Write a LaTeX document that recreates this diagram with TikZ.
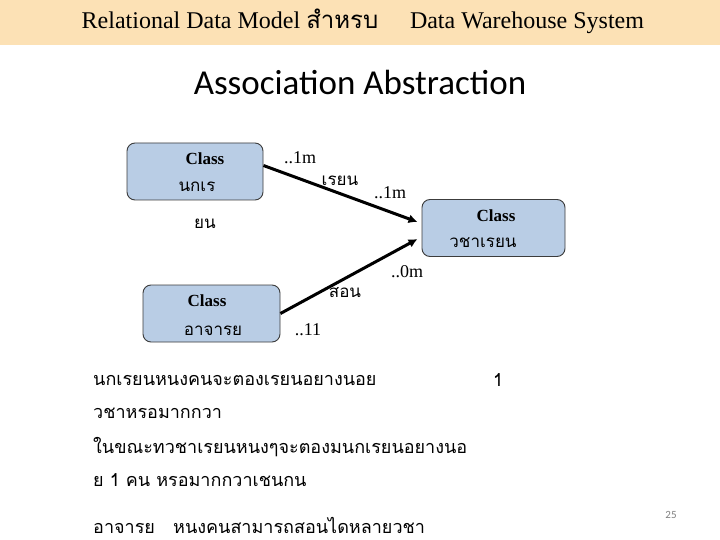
\documentclass[tikz,border=0pt]{standalone}
\usepackage{fontspec}
\setmainfont{Liberation Serif}
\newfontfamily\thai[Script=Thai]{Loma}
\newfontfamily\calfont{Carlito}
\usetikzlibrary{arrows.meta}
\definecolor{hdr}{RGB}{252,225,181}
\definecolor{boxfill}{RGB}{185,205,229}
\definecolor{boxline}{RGB}{60,60,60}
\tikzset{
  classbox/.style={draw=boxline, line width=0.9pt, fill=boxfill, rounded corners=8pt, minimum width=136pt, minimum height=57pt, inner sep=0pt},
  cls/.style={font=\fontsize{17}{19}\selectfont\bfseries, inner sep=0pt},
  th/.style={font=\thai\fontsize{17}{19}\selectfont, inner sep=0pt},
  mult/.style={font=\fontsize{18}{20}\selectfont, inner sep=0pt},
  body/.style={font=\thai\fontsize{18}{20}\selectfont, inner sep=0pt, anchor=west},
  hdrtext/.style={font=\fontsize{24}{26}\selectfont, inner sep=0pt, anchor=base},
  arr/.style={line width=3pt, -{Latex[length=9pt,width=9pt]}}
}
\begin{document}
\begin{tikzpicture}[x=1pt,y=-1pt]
\useasboundingbox (0,0) rectangle (720,540);
\fill[white] (0,0) rectangle (720,540);
\fill[hdr] (0,0) rectangle (720,45);
\node[hdrtext] (h1) at (230,29) {Relational Data Model {\thai สำหรบ}};
\node[hdrtext] (h2) at (527,29) {Data Warehouse System};
\node[font=\calfont\fontsize{35}{38}\selectfont, inner sep=0pt] (title) at (360,82) {Association Abstraction};
% boxes
\node[classbox] (s) at (195,171.5) {};
\node[classbox, minimum width=143pt] (c) at (493.5,228) {};
\node[classbox, minimum width=137pt] (t) at (211.5,313.5) {};
\node[cls] (s1) at (205,159) {Class};
\node[th] (s2) at (197,187) {นกเร};
\node[th] (s3) at (205,224) {ยน};
\node[cls] (c1) at (496,216) {Class};
\node[th] (c2) at (483,243) {วชาเรยน};
\node[cls] (t1) at (207,301) {Class};
\node[th] (t2) at (213,331) {อาจารย};
% connectors
\draw[arr] ([yshift=6pt]s.east) -- ([xshift=-4pt,yshift=6pt]c.west);
\draw[arr] (t.east) -- ([xshift=-4pt,yshift=-11pt]c.west);
% labels
\node[mult] (m1) at (300,158) {..1m};
\node[th] (l1) at (340,181) {เรยน};
\node[mult] (m2) at (390,193) {..1m};
\node[mult] (m3) at (407,272) {..0m};
\node[th] (l2) at (345,293) {สอน};
\node[mult] (m4) at (308,330) {..11};
% text
\node[body] (b1) at (93,380) {นกเรยนหนงคนจะตองเรยนอยางนอย};
\node[body] (b1n) at (493,380) {1};
\node[body] (b2) at (93,413) {วชาหรอมากกวา};
\node[body] (b3) at (93,447) {ในขณะทวชาเรยนหนงๆจะตองมนกเรยนอยางนอ};
\node[body] (b4) at (93,480) {ย 1 คน หรอมากกวาเชนกน};
\node[body] (b5) at (93,525) {อาจารย \ \ หนงคนสามารถสอนไดหลายวชา};
\node[font=\calfont\fontsize{11}{12}\selectfont, text=gray, inner sep=0pt] (pg) at (671,515) {25};
\end{tikzpicture}
\end{document}
